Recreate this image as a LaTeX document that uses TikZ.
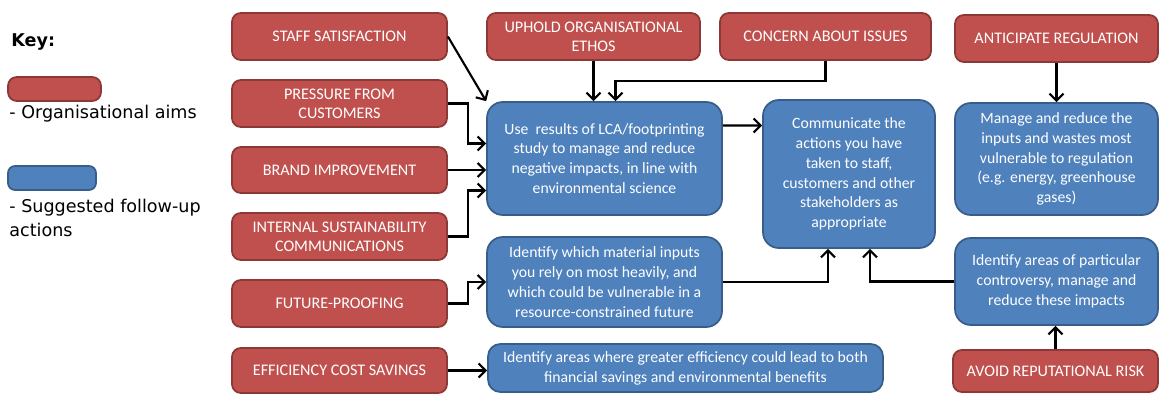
\documentclass[tikz,border=0pt]{standalone}
\usepackage{fontspec}
\setmainfont{Carlito}
\newfontfamily\keyfont{DejaVu Sans}
\usetikzlibrary{arrows.meta}
\usetikzlibrary{positioning,calc}

\definecolor{aimfill}{HTML}{C0504D}
\definecolor{aimline}{HTML}{8C3836}
\definecolor{actfill}{HTML}{4F81BD}
\definecolor{actline}{HTML}{385D8A}

\begin{document}
\begin{tikzpicture}[x=0.02cm, y=-0.02cm, >={Straight Barb[length=4pt,width=8pt]}]
	\tikzstyle{aim} = [draw=aimline, fill=aimfill, line width=1pt, rounded corners=5pt,
		text=white, align=center, inner sep=2pt, font=\fontsize{9.2}{10.8}\selectfont];
	\tikzstyle{action} = [draw=actline, fill=actfill, line width=1pt, rounded corners=9pt,
		text=white, align=center, inner sep=2pt, font=\fontsize{8.95}{11.3}\selectfont];
	\tikzstyle{link} = [->, line width=1.2pt];
	\useasboundingbox (0,0) rectangle (1160,394);

	% key
	\node [anchor=west, inner sep=0pt, font=\keyfont\bfseries\fontsize{10}{12}\selectfont] (key_title) at (11,42) {Key:};
	\node [aim, minimum width=1.86cm, minimum height=0.48cm] (key_aim) at (54.5,89) {};
	\node [anchor=north west, inner sep=0pt, font=\keyfont\fontsize{10}{12}\selectfont] (key_aim_text) at (9,105) {- Organisational aims};
	\node [action, rounded corners=4pt, minimum width=1.76cm, minimum height=0.48cm] (key_act) at (52,178) {};
	\node [anchor=north west, inner sep=0pt, align=left, font=\keyfont\fontsize{10}{13.6}\selectfont] (key_act_text) at (9,199) {- Suggested follow-up\\actions};

	% organisational aims
	\node [aim, minimum width=4.3cm, minimum height=0.94cm] (aim_staff)    at (339.5,36.5)  {STAFF SATISFACTION};
	\node [aim, minimum width=4.3cm, minimum height=0.94cm] (aim_press)    at (339.5,103.5) {PRESSURE FROM\\CUSTOMERS};
	\node [aim, minimum width=4.3cm, minimum height=0.92cm] (aim_brand)    at (339.5,170)   {BRAND IMPROVEMENT};
	\node [aim, minimum width=4.3cm, minimum height=0.94cm] (aim_internal) at (339.5,236.5) {INTERNAL SUSTAINABILITY\\COMMUNICATIONS};
	\node [aim, minimum width=4.3cm, minimum height=0.94cm] (aim_future)   at (339.5,303.5) {FUTURE-PROOFING};
	\node [aim, minimum width=4.3cm, minimum height=0.9cm]  (aim_eff)      at (339.5,370.5) {EFFICIENCY COST SAVINGS};
	\node [aim, minimum width=4.26cm, minimum height=0.94cm] (aim_ethos)   at (593.5,36.5)  {UPHOLD ORGANISATIONAL\\ETHOS};
	\node [aim, minimum width=4.22cm, minimum height=0.94cm] (aim_concern) at (825.5,36.5)  {CONCERN ABOUT ISSUES};
	\node [aim, minimum width=4.06cm, minimum height=0.94cm] (aim_reg)     at (1056.5,38.5) {ANTICIPATE REGULATION};
	\node [aim, minimum width=4.1cm, minimum height=0.84cm]  (aim_risk)    at (1055.5,371)  {AVOID REPUTATIONAL RISK};

	% follow-up actions
	\node [action, minimum width=4.7cm, minimum height=2.26cm] (act_lca) at (604.5,158.5)
		{Use \ results of LCA/footprinting\\study to manage and reduce\\negative impacts, in line with\\environmental science};
	\node [action, minimum width=3.44cm, minimum height=2.96cm] (act_comm) at (849,174)
		{Communicate the\\actions you have\\taken to staff,\\customers and other\\stakeholders as\\appropriate};
	\node [action, minimum width=4.06cm, minimum height=2.24cm] (act_reg) at (1056.5,159)
		{Manage and reduce the\\inputs and wastes most\\vulnerable to regulation\\(e.g. energy, greenhouse\\gases)};
	\node [action, minimum width=4.7cm, minimum height=1.8cm] (act_mat) at (604.5,282)
		{Identify which material inputs\\you rely on most heavily, and\\which could be vulnerable in a\\resource-constrained future};
	\node [action, minimum width=4.06cm, minimum height=1.74cm] (act_contro) at (1056.5,281.5)
		{Identify areas of particular\\controversy, manage and\\reduce these impacts};
	\node [action, rounded corners=7pt, minimum width=7.9cm, minimum height=0.96cm] (act_eff) at (685.5,368)
		{Identify areas where greater efficiency could lead to both\\financial savings and environmental benefits};

	% connectors
	\draw [link] (aim_staff.east) -- (act_lca.north west);
	\draw [link] (aim_press.east) -- ++(20,0) |- ($(act_lca.west)+(0,-15)$);
	\draw [link] (aim_brand.east) -- (aim_brand.east -| act_lca.west);
	\draw [link] (aim_internal.east) -- ++(20,0) |- ($(act_lca.west)+(0,32)$);
	\draw [link] (aim_future.east) -- ++(20,0) |- (act_mat.west);
	\draw [link] (aim_eff.east) -- (aim_eff.east -| act_eff.west);
	\draw [link] (aim_ethos.south) -- (aim_ethos.south |- act_lca.north);
	\draw [link] (aim_concern.south) -- ++(0,20) -| ($(act_lca.north)+(11,0)$);
	\draw [link] ($(act_lca.east)+(0,-33)$) -- ($(act_comm.west)+(0,-48.5)$);
	\draw [link] (act_mat.east) -| ($(act_comm.south)+(-21,0)$);
	\draw [link] (act_contro.west) -| ($(act_comm.south)+(21,0)$);
	\draw [link] (aim_reg.south) -- (aim_reg.south |- act_reg.north);
	\draw [link] (aim_risk.north) -- (aim_risk.north |- act_contro.south);
\end{tikzpicture}
\end{document}
